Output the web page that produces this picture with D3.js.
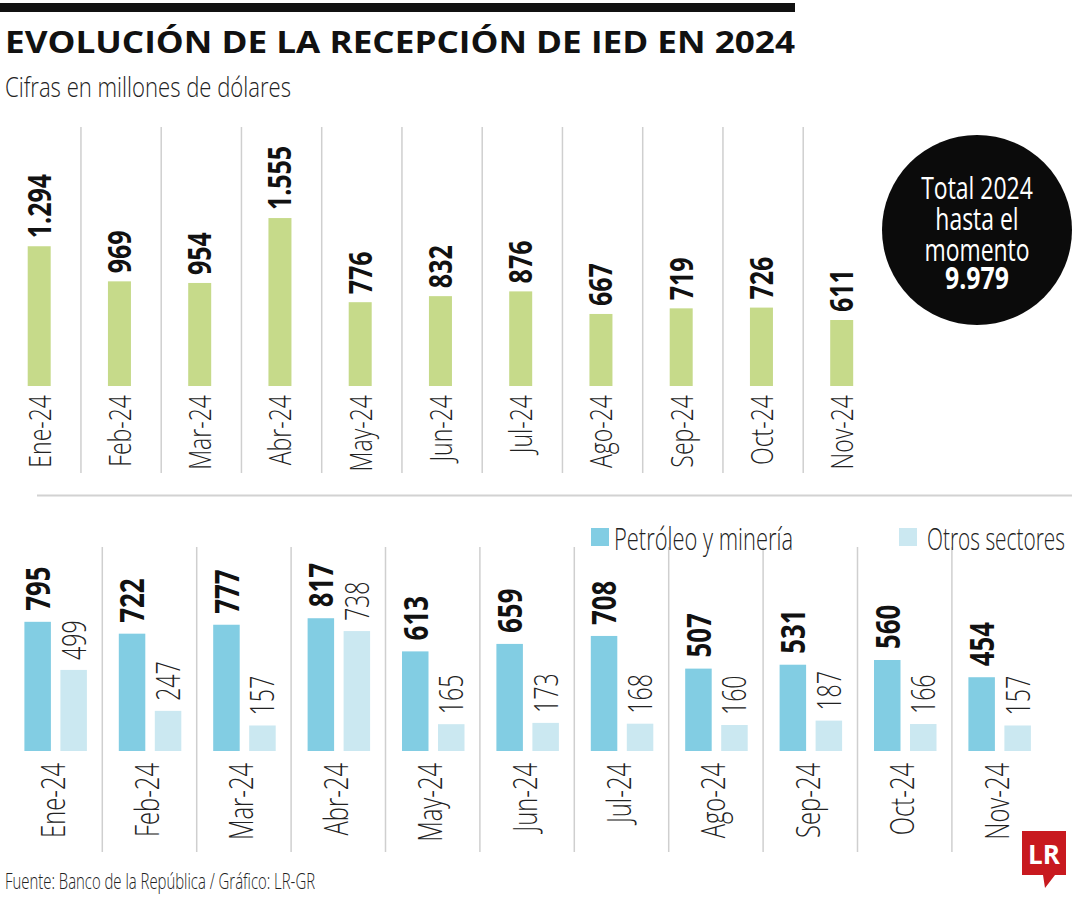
<!DOCTYPE html>
<html>
<head>
<meta charset="utf-8">
<script src="https://cdn.jsdelivr.net/npm/d3@7"></script>
<style>
  html, body { margin: 0; padding: 0; background: #fff; }
  svg { display: block; }
  text { font-family: "Open Sans", "Noto Sans", "DejaVu Sans", sans-serif; }
</style>
</head>
<body>
<svg id="chart" width="1080" height="900"></svg>
<script>
// ---- data ----
const months = ["Ene-24","Feb-24","Mar-24","Abr-24","May-24","Jun-24","Jul-24","Ago-24","Sep-24","Oct-24","Nov-24"];
const totals = [1294, 969, 954, 1555, 776, 832, 876, 667, 719, 726, 611];
const petroleo = [795, 722, 777, 817, 613, 659, 708, 507, 531, 560, 454];
const otros = [499, 247, 157, 738, 165, 173, 168, 160, 187, 166, 157];
const seriesNames = ["Petróleo y minería", "Otros sectores"];
const titleText = "EVOLUCIÓN DE LA RECEPCIÓN DE IED EN 2024";
const subtitleText = "Cifras en millones de dólares";
const sourceText = "Fuente: Banco de la República / Gráfico: LR-GR";
const circleLines = ["Total 2024", "hasta el", "momento"];

// ---- helpers ----
const loc = d3.formatLocale({decimal: ",", thousands: ".", grouping: [3], currency: ["$", ""]});
const fmt = loc.format(",d");
const GREEN = "#c6da8a", BLUE = "#82cde3", LIGHT = "#cbe8f1", GRID = "#cfcfcf";

function condense(sel, k) {
  sel.each(function () {
    const L = this.getComputedTextLength();
    this.setAttribute("textLength", (L * k).toFixed(2));
    this.setAttribute("lengthAdjust", "spacingAndGlyphs");
  });
  return sel;
}
function fitWidth(sel, w) {
  sel.attr("textLength", w).attr("lengthAdjust", "spacingAndGlyphs");
  return sel;
}

const svg = d3.select("#chart");

// ---- header ----
svg.append("rect").attr("x", 0).attr("y", 3).attr("width", 795).attr("height", 9).attr("fill", "#111");
fitWidth(svg.append("text").attr("x", 5).attr("y", 53).attr("font-size", 30).attr("font-weight", 700)
  .attr("fill", "#111").text(titleText), 790);
fitWidth(svg.append("text").attr("x", 5).attr("y", 97).attr("font-size", 28).attr("font-weight", 300)
  .attr("fill", "#222").text(subtitleText), 286);

// ---- top chart ----
const xTop = d3.scaleBand().domain(months).range([0.7, 0.7 + 80.25 * months.length]).padding(0);
const yTop = d3.scaleLinear().domain([0, 1000]).range([386, 278]);
const topBarW = 23, topBarOff = 27;

const gTop = svg.append("g");
gTop.selectAll("line.div").data(months.slice(1)).join("line")
  .attr("x1", d => xTop(d)).attr("x2", d => xTop(d))
  .attr("y1", 127).attr("y2", 473)
  .attr("stroke", GRID).attr("stroke-width", 1.5);

gTop.selectAll("rect.bar").data(months).join("rect")
  .attr("x", d => xTop(d) + topBarOff)
  .attr("y", (d, i) => yTop(totals[i]))
  .attr("width", topBarW)
  .attr("height", (d, i) => yTop(0) - yTop(totals[i]))
  .attr("fill", GREEN);

condense(gTop.selectAll("text.val").data(months).join("text")
  .attr("transform", (d, i) => `translate(${xTop(d) + topBarOff + topBarW / 2},${yTop(totals[i]) - 8}) rotate(-90)`)
  .attr("dy", "0.36em")
  .attr("font-size", 32).attr("font-weight", 700).attr("fill", "#111")
  .text((d, i) => fmt(totals[i])), 0.78);

condense(gTop.selectAll("text.mon").data(months).join("text")
  .attr("transform", d => `translate(${xTop(d) + topBarOff + topBarW / 2},${yTop(0) + 9}) rotate(-90)`)
  .attr("dy", "0.36em").attr("text-anchor", "end")
  .attr("font-size", 32).attr("font-weight", 300).attr("fill", "#222")
  .text(d => d), 0.72);

// total circle
const cx = 977, cy = 230;
svg.append("circle").attr("cx", cx).attr("cy", cy).attr("r", 95).attr("fill", "#0b0b0b");
const cBase = [199, 230, 261];
circleLines.forEach((t, i) => {
  condense(svg.append("text").attr("x", cx).attr("y", cBase[i]).attr("text-anchor", "middle")
    .attr("font-size", 31).attr("font-weight", 400).attr("fill", "#fff").text(t), 0.74);
});
condense(svg.append("text").attr("x", cx).attr("y", 289).attr("text-anchor", "middle")
  .attr("font-size", 31).attr("font-weight", 700).attr("fill", "#fff").text(fmt(d3.sum(totals))), 0.8);

// separator
svg.append("line").attr("x1", 37).attr("x2", 1072).attr("y1", 495.5).attr("y2", 495.5)
  .attr("stroke", "#d2d2d2").attr("stroke-width", 2);

// ---- bottom chart ----
const xBot = d3.scaleBand().domain(months).range([7.9, 7.9 + 94.4 * months.length]).padding(0);
const yBot = d3.scaleLinear().domain([0, 1000]).range([751, 588.5]);
const bw = 26.5, pOff = 16.5, oOff = 52.5;

const gBot = svg.append("g");
gBot.selectAll("line.div").data(months.slice(1)).join("line")
  .attr("x1", d => xBot(d)).attr("x2", d => xBot(d))
  .attr("y1", 547).attr("y2", 852)
  .attr("stroke", GRID).attr("stroke-width", 1.5);

gBot.selectAll("rect.p").data(months).join("rect")
  .attr("x", d => xBot(d) + pOff)
  .attr("y", (d, i) => yBot(petroleo[i]))
  .attr("width", bw)
  .attr("height", (d, i) => yBot(0) - yBot(petroleo[i]))
  .attr("fill", BLUE);
gBot.selectAll("rect.o").data(months).join("rect")
  .attr("x", d => xBot(d) + oOff)
  .attr("y", (d, i) => yBot(otros[i]))
  .attr("width", bw)
  .attr("height", (d, i) => yBot(0) - yBot(otros[i]))
  .attr("fill", LIGHT);

condense(gBot.selectAll("text.pv").data(months).join("text")
  .attr("transform", (d, i) => `translate(${xBot(d) + pOff + bw / 2},${yBot(petroleo[i]) - 11}) rotate(-90)`)
  .attr("dy", "0.36em")
  .attr("font-size", 34).attr("font-weight", 700).attr("fill", "#111")
  .text((d, i) => fmt(petroleo[i])), 0.76);
condense(gBot.selectAll("text.ov").data(months).join("text")
  .attr("transform", (d, i) => `translate(${xBot(d) + oOff + bw / 2},${yBot(otros[i]) - 10}) rotate(-90)`)
  .attr("dy", "0.36em")
  .attr("font-size", 33).attr("font-weight", 300).attr("fill", "#222")
  .text((d, i) => fmt(otros[i])), 0.7);

condense(gBot.selectAll("text.mon").data(months).join("text")
  .attr("transform", d => `translate(${xBot(d) + (pOff + oOff + bw) / 2 - 3},${yBot(0) + 12}) rotate(-90)`)
  .attr("dy", "0.36em").attr("text-anchor", "end")
  .attr("font-size", 33).attr("font-weight", 300).attr("fill", "#222")
  .text(d => d), 0.72);

// legend
const legend = [
  {name: seriesNames[0], color: BLUE, x: 591, tx: 614, w: 179},
  {name: seriesNames[1], color: LIGHT, x: 899, tx: 927, w: 138}
];
legend.forEach(l => {
  svg.append("rect").attr("x", l.x).attr("y", 528).attr("width", 18).attr("height", 18).attr("fill", l.color);
  fitWidth(svg.append("text").attr("x", l.tx).attr("y", 549.5).attr("font-size", 31).attr("font-weight", 300)
    .attr("fill", "#222").text(l.name), l.w);
});

// footer
fitWidth(svg.append("text").attr("x", 5).attr("y", 889).attr("font-size", 22).attr("font-weight", 300)
  .attr("fill", "#222").text(sourceText), 310);

// LR logo
const logo = svg.append("g");
logo.append("path")
  .attr("d", "M1022,831 H1066 V875 H1055 L1045,888 L1043,875 H1022 Z")
  .attr("fill", "#c8191f");
logo.append("text").attr("x", 1044).attr("y", 864).attr("text-anchor", "middle")
  .attr("font-family", "'Liberation Serif', 'DejaVu Serif', serif")
  .attr("font-size", 26).attr("font-weight", 700).attr("fill", "#fff").text("LR");
</script>
</body>
</html>
